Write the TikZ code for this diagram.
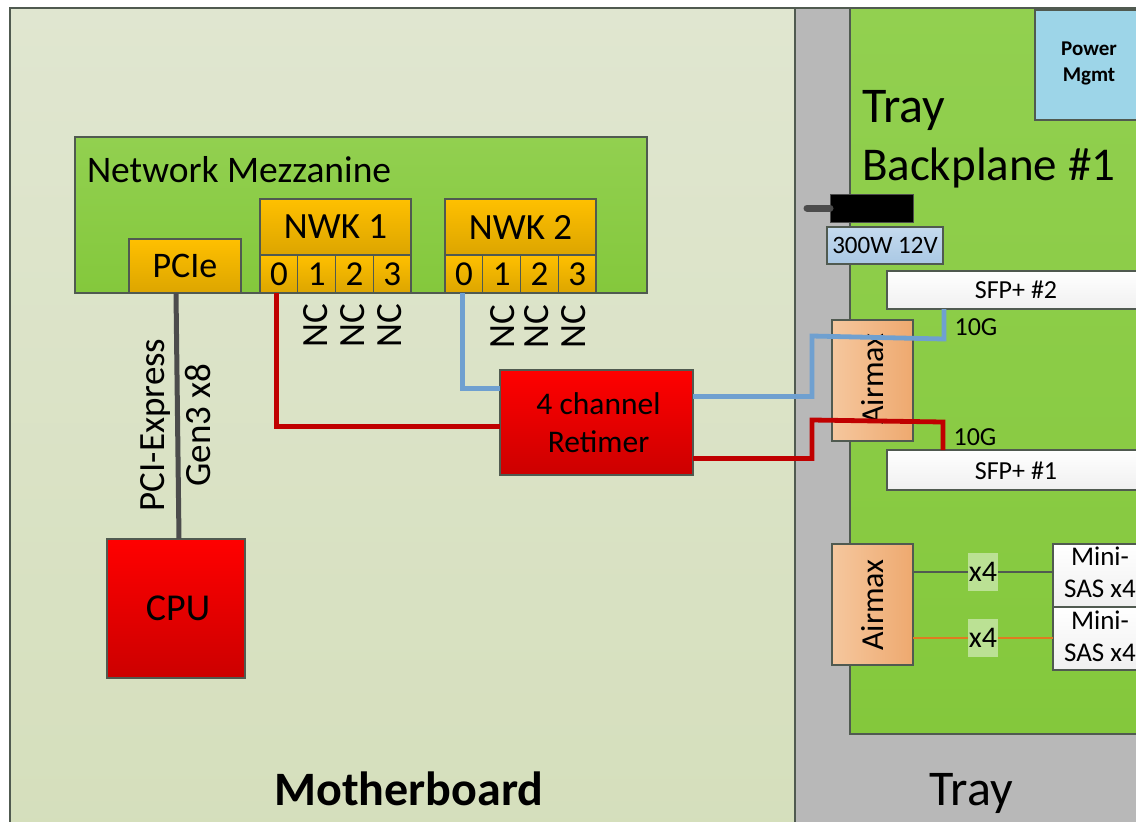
\documentclass[tikz,border=0pt]{standalone}
\usepackage{fontspec}
\setmainfont{Carlito}
\usetikzlibrary{positioning}
\newcommand{\pxfont}[1]{\fontsize{#1}{#1}\selectfont}
\definecolor{wireblue}{HTML}{6FA0D0}
\definecolor{wirered}{HTML}{C00000}
\definecolor{wireorange}{HTML}{E07B20}
\definecolor{edgegray}{HTML}{505A50}
\definecolor{greenA}{HTML}{92D050}
\definecolor{greenB}{HTML}{84C83C}
\definecolor{chipA}{HTML}{FFC000}
\definecolor{chipB}{HTML}{DCA500}
\definecolor{airA}{HTML}{F5C79E}
\definecolor{airB}{HTML}{EEA96F}
\definecolor{mbA}{HTML}{E0E6D0}
\definecolor{mbB}{HTML}{D5DFBC}
\definecolor{powerblue}{HTML}{9DD5E8}
\definecolor{vblueA}{HTML}{C5DAEE}
\definecolor{vblueB}{HTML}{A9C8E4}
\tikzset{
    sized/.style 2 args={minimum width=#1, minimum height=#2, inner sep=0pt, outer sep=0pt, anchor=north west},
    panel/.style={rectangle, draw=edgegray, line width=1.2pt},
    greenbox/.style={panel, top color=greenA, bottom color=greenB},
    chip/.style={panel, top color=chipA, bottom color=chipB, align=center},
    redchip/.style={panel, top color=red, bottom color=red!80!black, align=center},
    whitebox/.style={panel, top color=white, bottom color=black!6, align=center},
    airbox/.style={panel, left color=airA, right color=airB},
    wire/.style={line width=4.8pt, line join=miter},
    thinwire/.style={line width=1.8pt},
    lbl/.style={inner sep=0pt, outer sep=0pt, align=center},
    nc/.style={lbl, rotate=90, font=\pxfont{37}},
}
\begin{document}
\begin{tikzpicture}[x=1pt,y=-1pt]
\useasboundingbox (0,0) rectangle (1136,822);
\clip (0,0) rectangle (1136,822);
\fill[white] (0,0) rectangle (1136,822);
% boards
\node[panel,sized={785pt}{830pt},top color=mbA,bottom color=mbB] (mboard) at (10,8) {};
\node[panel,sized={360pt}{830pt},fill=black!28] (tray) at (795,8) {};
\node[greenbox,sized={300pt}{726pt}] (backplane) at (850,8) {};
\node[panel,sized={110pt}{110pt},fill=powerblue] (power) at (1035,10) {};
\node[lbl,font=\pxfont{21}\bfseries,anchor=center] (powertxt) at (1089,63) {Power\\[5pt]Mgmt};
\node[lbl,font=\pxfont{50},anchor=west] (traytxt) at (862,110) {Tray};
\node[lbl,font=\pxfont{47},anchor=west] (bptxt) at (862,168) {Backplane \#1};
\node[lbl,font=\pxfont{48}\bfseries] (mbtxt) at (409,789) {Motherboard};
\node[lbl,font=\pxfont{50}] (traylbl) at (971,793) {Tray};
% mezzanine
\node[greenbox,sized={572pt}{156pt}] (mezz) at (75,137) {};
\node[lbl,font=\pxfont{37.5},anchor=west] (mezztxt) at (87,170) {Network Mezzanine};
\node[chip,sized={112pt}{54pt},font=\pxfont{36}] (pcie) at (129,239) {PCIe};
\node[chip,sized={151pt}{56pt},font=\pxfont{37}] (nwka) at (260,199) {NWK 1};
\node[chip,sized={151pt}{56pt},font=\pxfont{37}] (nwkb) at (445,199) {NWK 2};
\foreach \n/\xo in {a/260,b/445}{
  \node[chip,sized={37.75pt}{38pt},font=\pxfont{35}] (p\n0) at (\xo,255) {0};
  \node[chip,sized={37.75pt}{38pt},font=\pxfont{35},right=0pt of p\n0] (p\n1) {1};
  \node[chip,sized={37.75pt}{38pt},font=\pxfont{35},right=0pt of p\n1] (p\n2) {2};
  \node[chip,sized={37.75pt}{38pt},font=\pxfont{35},right=0pt of p\n2] (p\n3) {3};
}
\node[nc] (nca1) at (316,326) {NC};
\node[nc] (nca2) at (353,326) {NC};
\node[nc] (nca3) at (390,326) {NC};
\node[nc] (ncb1) at (503,327) {NC};
\node[nc] (ncb2) at (537,327) {NC};
\node[nc] (ncb3) at (574,327) {NC};
% cpu and retimer
\node[redchip,sized={138pt}{139pt},font=\pxfont{38}] (cpu) at (107,539) {\hspace{4pt}CPU};
\node[redchip,sized={193pt}{105pt},font=\pxfont{31.5}] (retimer) at (500,370) {\hspace{4pt}4 channel\\[6pt]\hspace{4pt}Retimer};
\node[lbl,rotate=90,font=\pxfont{37}] (pcitxt) at (155,425) {PCI-Express};
\node[lbl,rotate=90,font=\pxfont{37}] (gentxt) at (198,425) {Gen3 x8};
% tray parts
\node[rectangle,fill=black,draw=black!70,sized={83pt}{28pt}] (psu) at (830,194) {};
\coordinate (psuend) at (807,208);
\draw[black!70,line width=7pt,line cap=round] (psuend) -- (psu.west);
\node[panel,sized={116pt}{37pt},top color=vblueA,bottom color=vblueB,font=\pxfont{25}] (volt) at (827,227) {300W 12V};
\node[whitebox,sized={260pt}{38pt}] (sfpb) at (887,271) {};
\node[lbl,font=\pxfont{26}] (sfpbtxt) at (1016,290) {SFP+ \#2};
\node[whitebox,sized={260pt}{40pt}] (sfpa) at (887,450) {};
\node[lbl,font=\pxfont{26}] (sfpatxt) at (1016,471) {SFP+ \#1};
\node[airbox,sized={81pt}{121pt}] (aira) at (832,320) {};
\node[lbl,rotate=90,font=\pxfont{32}] (airatxt) at (873,379) {Airmax};
\node[airbox,sized={81pt}{121pt}] (airb) at (832,544) {};
\node[lbl,rotate=90,font=\pxfont{32}] (airbtxt) at (873,605) {Airmax};
\node[lbl,font=\pxfont{26}] (tena) at (976,327) {10G};
\node[lbl,font=\pxfont{26}] (tenb) at (975,437) {10G};
\node[whitebox,sized={100pt}{63pt}] (sasa) at (1053,544) {};
\node[whitebox,sized={100pt}{63pt}] (sasb) at (1053,607) {};
\node[lbl,font=\pxfont{27},anchor=north] (sasatxt) at (1100,547) {Mini-\hspace{11pt}\\[5pt]SAS x4};
\node[lbl,font=\pxfont{27},anchor=north] (sasbtxt) at (1100,611) {Mini-\hspace{11pt}\\[5pt]SAS x4};
\node[rectangle,fill=white!45!greenB,sized={30pt}{38pt}] (xa) at (968,553) {};
\node[rectangle,fill=white!45!greenB,sized={30pt}{38pt}] (xb) at (968,619) {};
% wires
\draw[edgegray,thinwire] (airb.east |- xa.west) -- (xa.west);
\draw[edgegray,thinwire] (xa.east) -- (sasa.west |- xa.east);
\draw[wireorange,thinwire] (airb.east |- xb.west) -- (xb.west);
\draw[wireorange,thinwire] (xb.east) -- (sasb.west |- xb.east);
\node[lbl,font=\pxfont{30}] (xatxt) at (xa.center) {x4};
\node[lbl,font=\pxfont{30}] (xbtxt) at (xb.center) {x4};
\draw[black!70,line width=5pt] ([xshift=-9pt]pcie.south) -- ([xshift=3pt]cpu.north);
\coordinate (blueup) at (812,336);
\coordinate (redup) at (812,420);
\coordinate (blueend) at (944,339);
\coordinate (redend) at (943,422);
\draw[wirered,wire] ([xshift=-2pt]pa0.south) |- ([yshift=-4pt]retimer.west);
\draw[wireblue,wire] ([xshift=-1pt]pb0.south) |- ([yshift=34pt]retimer.west);
\draw[wireblue,wire] ([yshift=26pt]retimer.east) -| (blueup) -- (blueend) -- (blueend |- sfpb.south);
\draw[wirered,wire] ([yshift=-36pt]retimer.east) -| (redup) -- (redend) -- (redend |- sfpa.north);
\end{tikzpicture}
\end{document}
